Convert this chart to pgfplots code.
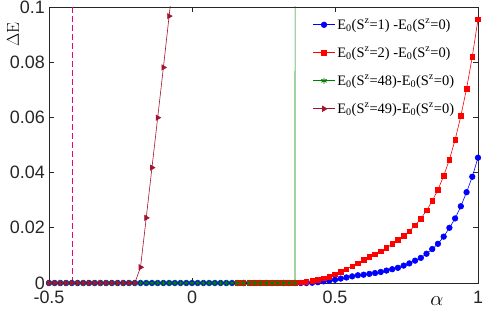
\documentclass[border=0pt]{standalone}
\usepackage[no-math]{fontspec}
\usepackage{pgfplots}
\usepackage{pgfplotstable}
\pgfplotsset{compat=1.18}
\setmainfont{Liberation Serif}
\newfontfamily\arialf{Liberation Sans}
\definecolor{axgray}{rgb}{0.15,0.15,0.15}
\definecolor{mgreen}{rgb}{0,0.5,0}
\definecolor{mdred}{rgb}{0.635,0.078,0.184}

\pgfplotstableread{
x y
-0.50 0
-0.48 0
-0.46 0
-0.44 0
-0.42 0
-0.40 0
-0.38 0
-0.36 0
-0.34 0
-0.32 0
-0.30 0
-0.28 0
-0.26 0
-0.24 0
-0.22 0
-0.20 0
-0.18 0
-0.16 0
-0.14 0
-0.12 0
-0.10 0
-0.08 0
-0.06 0
-0.04 0
-0.02 0
0.00 0
0.02 0
0.04 0
0.06 0
0.08 0
0.10 0
0.12 0
0.14 0
0.16 0
0.18 0
0.20 0
0.22 0
0.24 0
0.26 0
0.28 0
0.30 0
0.32 0
0.34 0
0.36 0
0.38 0
0.40 0
0.42 0.0001
0.44 0.0003
0.46 0.0006
0.48 0.0009
0.50 0.0012
0.52 0.0016
0.54 0.0020
0.56 0.0024
0.58 0.0028
0.60 0.0030
0.62 0.0033
0.64 0.0036
0.66 0.0040
0.68 0.0045
0.70 0.0050
0.72 0.0055
0.74 0.0063
0.76 0.0071
0.78 0.0081
0.80 0.0091
0.82 0.0106
0.84 0.0123
0.86 0.0142
0.88 0.0168
0.90 0.0200
0.92 0.0234
0.94 0.0278
0.96 0.0329
0.98 0.0385
1.00 0.0454
}\blue

\pgfplotstableread{
x y
0.16 0
0.18 0
0.20 0
0.22 0
0.24 0
0.26 0
0.28 0
0.30 0
0.32 0
0.34 0
0.36 0
0.38 0.0002
0.40 0.0005
0.42 0.0008
0.44 0.0012
0.46 0.0017
0.48 0.0023
0.50 0.0031
0.52 0.0040
0.54 0.0050
0.56 0.0061
0.58 0.0072
0.60 0.0083
0.62 0.0094
0.64 0.0104
0.66 0.0115
0.68 0.0127
0.70 0.0141
0.72 0.0156
0.74 0.0171
0.76 0.0188
0.78 0.0209
0.80 0.0233
0.82 0.0263
0.84 0.0297
0.86 0.0338
0.88 0.0388
0.90 0.0447
0.92 0.0519
0.94 0.0605
0.96 0.0704
0.98 0.0820
1.00 0.0955
}\red

\pgfplotstableread{
x y
-0.50 0
-0.48 0
-0.46 0
-0.44 0
-0.42 0
-0.40 0
-0.38 0
-0.36 0
-0.34 0
-0.32 0
-0.30 0
-0.28 0
-0.26 0
-0.24 0
-0.22 0
-0.20 0
-0.18 0
-0.16 0
-0.14 0
-0.12 0
-0.10 0
-0.08 0
-0.06 0
-0.04 0
-0.02 0
0.00 0
0.02 0
0.04 0
0.06 0
0.08 0
0.10 0
0.12 0
0.14 0
0.16 0
0.18 0
0.20 0
0.22 0
0.24 0
0.26 0
0.28 0
0.30 0
0.32 0
0.34 0
0.36 0
}\green

\pgfplotstableread{
x y
-0.50 0
-0.48 0
-0.46 0
-0.44 0
-0.42 0
-0.40 0
-0.38 0
-0.36 0
-0.34 0
-0.32 0
-0.30 0
-0.28 0
-0.26 0
-0.24 0
-0.22 0
-0.20 0
-0.18 0.0057
-0.16 0.0236
-0.14 0.0418
-0.12 0.0599
-0.10 0.0781
-0.08 0.0967
}\dred

\begin{document}
\begin{tikzpicture}
\path[use as bounding box] (0,0) rectangle (491bp,309bp);
\begin{axis}[
  at={(49bp,26bp)}, anchor=south west,
  scale only axis, width=429bp, height=276bp,
  xmin=-0.5, xmax=1, ymin=0, ymax=0.1,
  xtick={-0.5,0,0.5,1}, xticklabels={-0.5,0,0.5,1},
  ytick={0,0.02,0.04,0.06,0.08,0.1}, yticklabels={0,0.02,0.04,0.06,0.08,0.1},
  tick align=inside, major tick length=5bp,
  axis line style={axgray, line width=0.6bp},
  every tick/.style={axgray, line width=0.6bp},
  ticklabel style={font=\arialf\fontsize{18}{18}\selectfont, text=axgray, inner sep=0.5bp},
  xticklabel style={yshift=-7.5bp},
  yticklabel style={xshift=-3.5bp},
  ylabel={\fontsize{19}{19}\selectfont$\Delta\mathrm{E}$},
  ylabel style={at={(axis description cs:-0.084,0.9)}, anchor=center, rotate=0},
  xlabel={\fontsize{21}{21}\selectfont$\alpha$},
  xlabel style={at={(axis description cs:0.904,0)}, anchor=base, inner sep=0pt, yshift=-22bp},
  legend cell align=left,
  legend style={draw=none, fill=white, font=\fontsize{14.5}{14.5}\selectfont,
    at={(axis description cs:0.612,0.968)}, anchor=north west,
    row sep=12.5bp, inner sep=1bp},
  legend image code/.code={\draw[mark repeat=2,mark phase=2] plot coordinates {(0bp,0bp) (11bp,0bp) (22bp,0bp)};},
]
\addplot[blue, line width=0.6bp, mark=*, mark size=2.8bp, mark options={solid, fill=blue}] table {\blue};
\addlegendentry{E\textsubscript{0}(S\textsuperscript{z}=1) -E\textsubscript{0}(S\textsuperscript{z}=0)}
\addplot[red, line width=0.6bp, mark=square*, mark size=2.3bp, mark options={solid, fill=red}] table {\red};
\addlegendentry{E\textsubscript{0}(S\textsuperscript{z}=2) -E\textsubscript{0}(S\textsuperscript{z}=0)}
\addplot[mgreen, line width=0.6bp, mark=asterisk, mark size=3bp, mark options={line width=0.9bp}] table {\green};
\addlegendentry{E\textsubscript{0}(S\textsuperscript{z}=48)-E\textsubscript{0}(S\textsuperscript{z}=0)}
\addplot[mdred, line width=0.6bp, mark=triangle*, mark size=3bp, mark options={solid, fill=mdred, rotate=-90}] table {\dred};
\addlegendentry{E\textsubscript{0}(S\textsuperscript{z}=49)-E\textsubscript{0}(S\textsuperscript{z}=0)}
\addplot[mgreen, line width=0.6bp, forget plot] coordinates {(0.36,0) (0.38,5)};
\addplot[mdred, line width=0.6bp, forget plot] coordinates {(-0.08,0.0967) (-0.06,0.1153)};
\addplot[magenta, line width=1bp, dash pattern=on 6bp off 3bp, forget plot] coordinates {(-0.417,0) (-0.417,0.1)};
\end{axis}
\end{tikzpicture}
\end{document}
